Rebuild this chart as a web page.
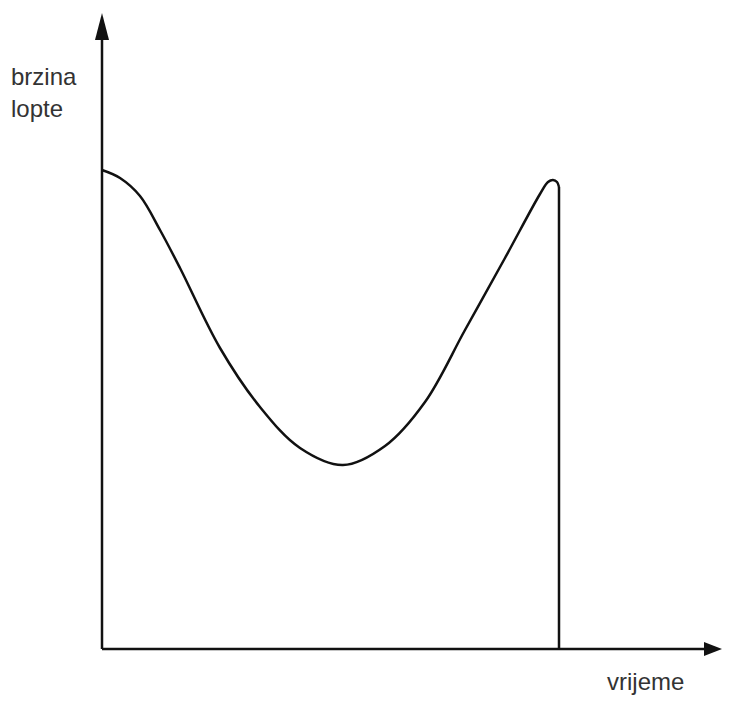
<!DOCTYPE html>
<html>
<head>
<meta charset="utf-8">
<script src="https://cdn.jsdelivr.net/npm/d3@7"></script>
<style>
  html, body { margin: 0; padding: 0; background: #fff; }
  #chart { width: 734px; height: 702px; }
  text { font-family: "Liberation Sans", Arial, sans-serif; fill: #333; }
</style>
</head>
<body>
<div id="chart"></div>
<script>
// time (vrijeme) and ball speed (brzina lopte), arbitrary units
const time = [0, 1.8, 3.8, 5.8, 7.8, 11.8, 15.8, 19.8, 24.1, 28.3, 32.3, 36.3, 40.3, 43.8, 44.6, 45.1, 45.5, 45.7];
const speed = [47.9, 47.1, 45.3, 41.9, 38.1, 30.1, 24.2, 20.1, 18.4, 20.3, 24.7, 31.9, 39.1, 45.5, 46.7, 46.9, 46.7, 46.2];
const timeMax = 62;
const speedMax = 63.6;
const yLabel = ["brzina", "lopte"];
const xLabel = "vrijeme";

const width = 734;
const height = 702;
const margin = { left: 102, bottom: 53, top: 13, right: 12 };

const svg = d3
  .select("#chart")
  .append("svg")
  .attr("width", width)
  .attr("height", height);

const x = d3
  .scaleLinear()
  .domain([0, timeMax])
  .range([margin.left, width - margin.right]);

const y = d3
  .scaleLinear()
  .domain([0, speedMax])
  .range([height - margin.bottom, margin.top]);

const ink = "#111";

// axes with arrowheads
svg
  .append("line")
  .attr("x1", x(0))
  .attr("y1", y(0))
  .attr("x2", x(0))
  .attr("y2", y(speedMax) + 20)
  .attr("stroke", ink)
  .attr("stroke-width", 2.5);

svg
  .append("line")
  .attr("x1", x(0))
  .attr("y1", y(0))
  .attr("x2", x(timeMax) - 12)
  .attr("y2", y(0))
  .attr("stroke", ink)
  .attr("stroke-width", 2.5);

svg
  .append("path")
  .attr("d", `M${x(0)},${y(speedMax)} L${x(0) - 7},${y(speedMax) + 27} L${x(0) + 7},${y(speedMax) + 27} Z`)
  .attr("fill", ink);

svg
  .append("path")
  .attr("d", `M${x(timeMax)},${y(0)} L${x(timeMax) - 18},${y(0) - 7} L${x(timeMax) - 18},${y(0) + 7} Z`)
  .attr("fill", ink);

// speed curve
const points = time.map((t, i) => [t, speed[i]]);

const line = d3
  .line()
  .x((d) => x(d[0]))
  .y((d) => y(d[1]))
  .curve(d3.curveCatmullRom.alpha(0.5));

svg
  .append("path")
  .datum(points)
  .attr("d", line)
  .attr("fill", "none")
  .attr("stroke", ink)
  .attr("stroke-width", 2.5)
  .attr("stroke-linejoin", "round");

// drop at the end
const last = points[points.length - 1];
svg
  .append("line")
  .attr("x1", x(last[0]))
  .attr("y1", y(last[1]))
  .attr("x2", x(last[0]))
  .attr("y2", y(0))
  .attr("stroke", ink)
  .attr("stroke-width", 2.5);

// labels
svg
  .selectAll("text.ylab")
  .data(yLabel)
  .enter()
  .append("text")
  .attr("class", "ylab")
  .attr("x", 11)
  .attr("y", (d, i) => 85 + i * 32)
  .style("font-size", "24px")
  .text((d) => d);

svg
  .append("text")
  .attr("x", 607)
  .attr("y", 690)
  .style("font-size", "24px")
  .text(xLabel);
</script>
</body>
</html>
